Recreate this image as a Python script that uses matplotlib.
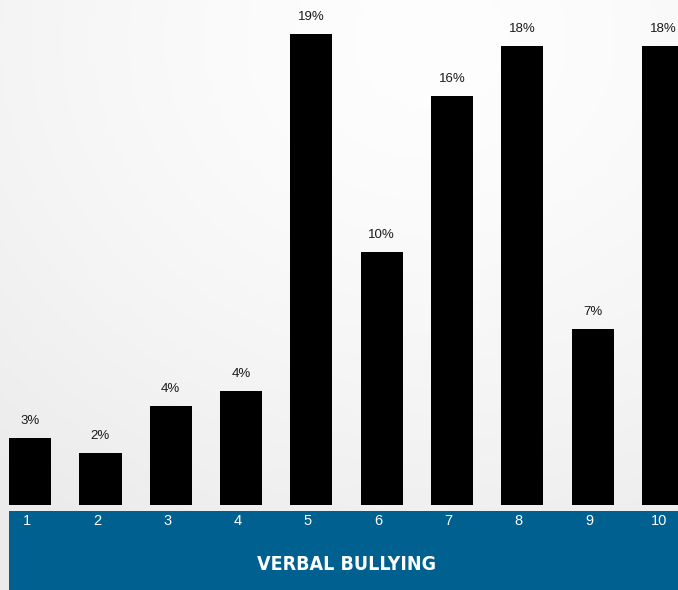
import numpy as np
import matplotlib.pyplot as plt
from matplotlib.patches import Rectangle

# data
categories = ["1", "2", "3", "4", "5", "6", "7", "8", "9", "10"]
values = [2.7, 2.1, 4.0, 4.6, 19.0, 10.2, 16.5, 18.5, 7.1, 18.5]
labels = ["3%", "2%", "4%", "4%", "19%", "10%", "16%", "18%", "7%", "18%"]
title = "VERBAL BULLYING"

W, H = 678, 590
fig = plt.figure(figsize=(W / 100, H / 100), dpi=100)

# soft radial background
bg = fig.add_axes([0, 0, 1, 1])
yy, xx = np.mgrid[0:H, 0:W]
r = np.hypot((xx - 430) / W, (yy - 40) / H)
shade = 0.995 - 0.07 * np.clip(r / 0.95, 0, 1) ** 1.5
bg.imshow(np.dstack([shade] * 3), aspect="auto", extent=[0, W, H, 0])
bg.axis("off")

# bar axes
left_px, right_px, base_px = 9, 678, 505
ax = fig.add_axes([left_px / W, (H - base_px) / H, (right_px - left_px) / W, base_px / H])
ax.patch.set_alpha(0)
x = np.arange(len(categories))
bw = 0.6
ax.bar(x, values, width=bw, color="black")
for xi, v, lab in zip(x, values, labels):
    ax.annotate(lab, (xi, v), xytext=(0, 8), textcoords="offset points",
                ha="center", va="bottom", fontsize=9.5, color="#1a1a1a",
                family=["Liberation Sans", "DejaVu Sans"])
ax.set_xlim(-bw / 2, 9 + (678 - 663) / 70.33)
ax.set_ylim(0, base_px / 24.8)
ax.axis("off")

# blue band with category labels and title
band = fig.add_axes([left_px / W, 0, (right_px - left_px) / W, (H - 511) / H])
band.set_xlim(ax.get_xlim())
band.set_ylim(0, 1)
band.add_patch(Rectangle((-5, 0), 30, 1, color="#00608f"))
for xi, c in zip(x, categories):
    band.text(xi - 0.05, 0.87, c, ha="center", va="center", color="white",
              fontsize=10.5, family=["Liberation Sans", "DejaVu Sans"])
band.text(4.5, 0.32, title, ha="center", va="center", color="white",
          fontsize=14, fontweight="bold", family="DejaVu Sans",
          fontstretch="condensed")
band.axis("off")

fig.savefig("out.png", dpi=100)
